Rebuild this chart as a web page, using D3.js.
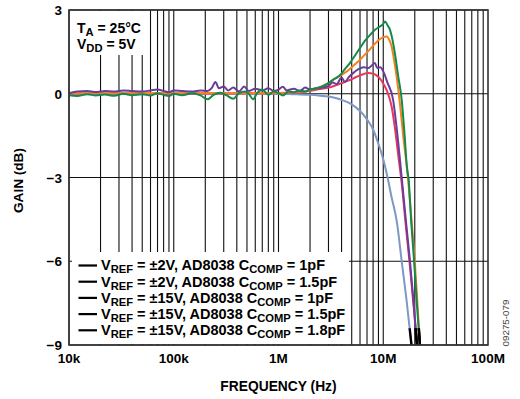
<!DOCTYPE html>
<html>
<head>
<meta charset="utf-8">
<title>Gain vs Frequency</title>
<script src="https://cdn.jsdelivr.net/npm/d3@7"></script>
<style>
  body { margin: 0; background: #fff; }
  text { font-family: "Liberation Sans", Arial, sans-serif; font-weight: bold; fill: #000; }
</style>
</head>
<body>
<script>
// values: [frequency Hz, gain dB]
const vref2_c1 = [ // red
  [1e4,0],[3e4,0.01],[1e5,0],[3e5,0.01],[1e6,0.02],[1.5e6,0.05],[2e6,0.1],[2.5e6,0.17],[3e6,0.22],
  [3.5e6,0.3],[4e6,0.38],[4.5e6,0.45],[5e6,0.52],[5.5e6,0.6],[6e6,0.66],[6.5e6,0.71],[7.2e6,0.74],
  [8e6,0.72],[8.7e6,0.65],[9.5e6,0.5],[10.3e6,0.28],[11e6,0.05],[12e6,-0.45],[13e6,-1.3],
  [14e6,-2.3],[15e6,-3.2],[16.5e6,-4.8],[18e6,-6.2],[19.5e6,-7.6],[21e6,-9],[22e6,-10]
];
const vref2_c15 = [ // orange
  [1e4,0.01],[1e5,0.02],[5e5,0.02],[1e6,0.03],[1.5e6,0.06],[2e6,0.12],[2.5e6,0.25],[3e6,0.38],
  [3.5e6,0.55],[4e6,0.68],[4.5e6,0.8],[5e6,0.95],[6e6,1.22],[7e6,1.48],[8e6,1.72],[9e6,1.92],
  [10e6,2.03],[10.8e6,2.05],[11.5e6,1.9],[12e6,1.7],[12.7e6,1.2],[13.4e6,0.62],[14.4e6,-0.33],
  [15.5e6,-1.5],[17.2e6,-3],[18.5e6,-4.4],[20e6,-6],[21.2e6,-7.5],[22.4e6,-9],[23.5e6,-10]
];
const vref15_c1 = [ // blue
  [1e4,0],[1e5,0],[5e5,0],[1e6,0],[1.5e6,-0.02],[2e6,-0.04],[2.5e6,-0.07],[3e6,-0.1],[3.5e6,-0.15],
  [4e6,-0.22],[5e6,-0.38],[6e6,-0.62],[7e6,-0.92],[8e6,-1.28],[9e6,-1.8],[10e6,-2.35],[11e6,-3],
  [12e6,-3.7],[13.5e6,-4.6],[15e6,-6],[16.7e6,-7.4],[18.6e6,-9],[19.8e6,-10]
];
const vref15_c15 = [ // purple
  [1e4,0.02],[1.2e4,0.08],[1.5e4,0.1],[1.8e4,0.06],[2.2e4,0.1],[2.7e4,0.08],[3.3e4,0.12],[4e4,0.1],
  [5e4,0.08],[6e4,0.12],[7e4,0.15],[8e4,0.1],[9e4,0.05],[1e5,0.12],[1.2e5,0.1],[1.5e5,0.08],
  [1.8e5,0.12],[2.1e5,0.1],[2.3e5,0.2],[2.5e5,0.42],[2.7e5,0.2],[3e5,0.26],[3.3e5,0.12],[3.7e5,0.22],
  [4.2e5,0.08],[4.7e5,0.26],[5.2e5,0.1],[6e5,0.18],[7e5,0.12],[8e5,0.2],[9e5,0.1],[1e6,0.15],
  [1.1e6,0.25],[1.2e6,0.12],[1.4e6,0.18],[1.6e6,0.1],[1.8e6,0.22],[2e6,0.15],[2.3e6,0.2],[2.6e6,0.22],
  [3e6,0.28],[3.3e6,0.4],[3.6e6,0.35],[4e6,0.58],[4.3e6,0.42],[4.7e6,0.6],[5.2e6,0.75],[5.8e6,0.88],
  [6.5e6,0.95],[7.2e6,0.92],[7.8e6,1.02],[8.3e6,1.1],[8.8e6,0.92],[9.4e6,0.95],[10e6,0.8],
  [11e6,0.39],[12.4e6,-0.2],[13.5e6,-1.3],[15e6,-3],[16.5e6,-4.6],[18e6,-6],[19.5e6,-7.5],
  [21e6,-9],[22e6,-10]
];
const vref15_c18 = [ // green
  [1e4,-0.05],[1.2e4,-0.08],[1.5e4,-0.02],[1.8e4,-0.06],[2.2e4,-0.03],[2.7e4,-0.07],[3.3e4,0],
  [4e4,-0.05],[5e4,-0.02],[6e4,-0.06],[7e4,0.02],[8e4,-0.04],[9e4,-0.08],[1e5,0],[1.2e5,-0.05],
  [1.5e5,0.02],[1.8e5,-0.06],[2.1e5,-0.2],[2.4e5,-0.04],[2.8e5,0.04],[3.2e5,-0.06],[3.7e5,-0.18],
  [4.2e5,0.02],[4.8e5,0.08],[5.3e5,-0.04],[5.7e5,-0.2],[6.3e5,0.04],[7e5,0.15],[8e5,-0.04],
  [9e5,0.08],[1e6,0.02],[1.1e6,-0.06],[1.25e6,0.08],[1.4e6,0.05],[1.6e6,0.12],[1.8e6,0.08],
  [2e6,0.15],[2.3e6,0.2],[2.6e6,0.25],[3e6,0.38],[3.3e6,0.5],[3.6e6,0.58],[3.9e6,0.68],[4.3e6,0.88],
  [4.8e6,1.1],[5.4e6,1.38],[6e6,1.64],[6.7e6,1.9],[7.5e6,2.11],[8.4e6,2.3],[9.3e6,2.41],[9.9e6,2.48],
  [10.4e6,2.59],[11e6,2.45],[11.6e6,2.29],[12.3e6,1.9],[12.9e6,1.46],[13.9e6,0.62],[15e6,-0.21],
  [16e6,-1.5],[16.8e6,-2.6],[17.5e6,-3.1],[18.5e6,-4.6],[19.7e6,-6],[21e6,-7.6],[22.4e6,-9],[23.5e6,-10]
];

const series = [vref2_c1, vref2_c15, vref15_c1, vref15_c15, vref15_c18];
const colors = ["#e8385e", "#f5801f", "#7d98c4", "#6a3c9c", "#138a4a"];
const drawOrder = [2, 0, 1, 3, 4];

const xTicks = [1e4, 1e5, 1e6, 1e7, 1e8];
const xTickLabels = ["10k", "100k", "1M", "10M", "100M"];
const yTicks = [3, 0, -3, -6, -9];

const legendRows = [
  ["±2V", "1pF"],
  ["±2V", "1.5pF"],
  ["±15V", "1pF"],
  ["±15V", "1.5pF"],
  ["±15V", "1.8pF"]
];

const width = 520, height = 399;
const pLeft = 69, pRight = 488, pTop = 10, pBottom = 345;

const svg = d3.select("body").append("svg")
  .attr("width", width)
  .attr("height", height);

const x = d3.scaleLog().domain([1e4, 1e8]).range([pLeft, pRight]);
const y = d3.scaleLinear().domain([-9, 3]).range([pBottom, pTop]);

// grid: every decade step 1..9
const gridX = [];
for (let d = 1e4; d < 1e8; d *= 10) {
  for (let k = 1; k < 10; k++) gridX.push(d * k);
}

const grid = svg.append("g");
grid.selectAll("line.v")
  .data(gridX)
  .join("line")
    .attr("x1", d => x(d)).attr("x2", d => x(d))
    .attr("y1", pTop).attr("y2", pBottom)
    .attr("stroke", "#111")
    .attr("stroke-width", 1.1);
grid.selectAll("line.h")
  .data(yTicks)
  .join("line")
    .attr("x1", pLeft).attr("x2", pRight)
    .attr("y1", d => y(d)).attr("y2", d => y(d))
    .attr("stroke", "#111")
    .attr("stroke-width", 1.1);

// white boxes behind the notes
svg.append("rect").attr("x", 71).attr("y", 11).attr("width", 75).attr("height", 44).attr("fill", "#fff");
svg.append("rect").attr("x", 72).attr("y", 252).attr("width", 277).attr("height", 92).attr("fill", "#fff");

// curves
svg.append("clipPath").attr("id", "plot")
  .append("rect").attr("x", pLeft).attr("y", pTop).attr("width", pRight - pLeft).attr("height", pBottom - pTop);
svg.append("clipPath").attr("id", "tail")
  .append("rect").attr("x", pLeft).attr("y", y(-8.4)).attr("width", pRight - pLeft).attr("height", pBottom - y(-8.4));

const line = d3.line()
  .x(d => x(d[0]))
  .y(d => y(d[1]))
  .curve(d3.curveMonotoneX);

svg.append("g").attr("clip-path", "url(#plot)")
  .selectAll("path")
  .data(drawOrder)
  .join("path")
    .attr("d", i => line(series[i]))
    .attr("fill", "none")
    .attr("stroke", i => colors[i])
    .attr("stroke-width", 2)
    .attr("stroke-linejoin", "round");

// curve ends near the bottom edge are black
svg.append("g").attr("clip-path", "url(#tail)")
  .selectAll("path")
  .data(drawOrder)
  .join("path")
    .attr("d", i => line(series[i]))
    .attr("fill", "none")
    .attr("stroke", "#000")
    .attr("stroke-width", 2.4);

// frame
svg.append("rect")
  .attr("x", pLeft).attr("y", pTop)
  .attr("width", pRight - pLeft).attr("height", pBottom - pTop)
  .attr("fill", "none")
  .attr("stroke", "#333")
  .attr("stroke-width", 1.6);

// tick labels
svg.selectAll("text.ytick")
  .data(yTicks)
  .join("text")
    .attr("x", 62)
    .attr("y", d => y(d) + 5)
    .attr("text-anchor", "end")
    .attr("font-size", 13.5)
    .text(d => d < 0 ? "\u2212" + Math.abs(d) : d);

svg.selectAll("text.xtick")
  .data(xTicks)
  .join("text")
    .attr("x", d => x(d))
    .attr("y", 363)
    .attr("text-anchor", "middle")
    .attr("font-size", 13.5)
    .text((d, i) => xTickLabels[i]);

svg.append("text")
  .attr("x", 278.5).attr("y", 391)
  .attr("text-anchor", "middle")
  .attr("font-size", 13.8)
  .text("FREQUENCY (Hz)");

svg.append("text")
  .attr("transform", "translate(23,180.5) rotate(-90)")
  .attr("text-anchor", "middle")
  .attr("font-size", 13.6)
  .text("GAIN (dB)");

// main text with lowered subscripts
function subText(sel, parts) {
  parts.forEach(p => {
    const t = sel.append("tspan").text(p[0]);
    if (p[1]) t.attr("font-size", 11.2).attr("dy", 3);
    else if (p[2]) t.attr("dy", -3);
  });
}
const note = svg.append("g").attr("font-size", 14);
subText(note.append("text").attr("x", 77).attr("y", 33), [["T"], ["A", true], [" = 25°C", false, true]]);
subText(note.append("text").attr("x", 77).attr("y", 48.5), [["V"], ["DD", true], [" = 5V", false, true]]);

// legend
const legend = svg.append("g");
legendRows.forEach((r, i) => {
  const yy = 265.5 + i * 16.2;
  legend.append("line")
    .attr("x1", 78.5).attr("x2", 97)
    .attr("y1", yy).attr("y2", yy)
    .attr("stroke", "#000").attr("stroke-width", 2.2);
  const t = legend.append("text").attr("x", 101).attr("y", yy + 4.8).attr("font-size", 14.5);
  subText(t, [["V"], ["REF", true], [" = " + r[0] + ", AD8038 C", false, true], ["COMP", true], [" = " + r[1], false, true]]);
});

svg.append("text")
  .attr("transform", "translate(509,323) rotate(-90)")
  .attr("text-anchor", "middle")
  .attr("font-size", 9.8)
  .style("font-weight", "normal")
  .style("fill", "#444")
  .text("09275-079");
</script>
</body>
</html>
